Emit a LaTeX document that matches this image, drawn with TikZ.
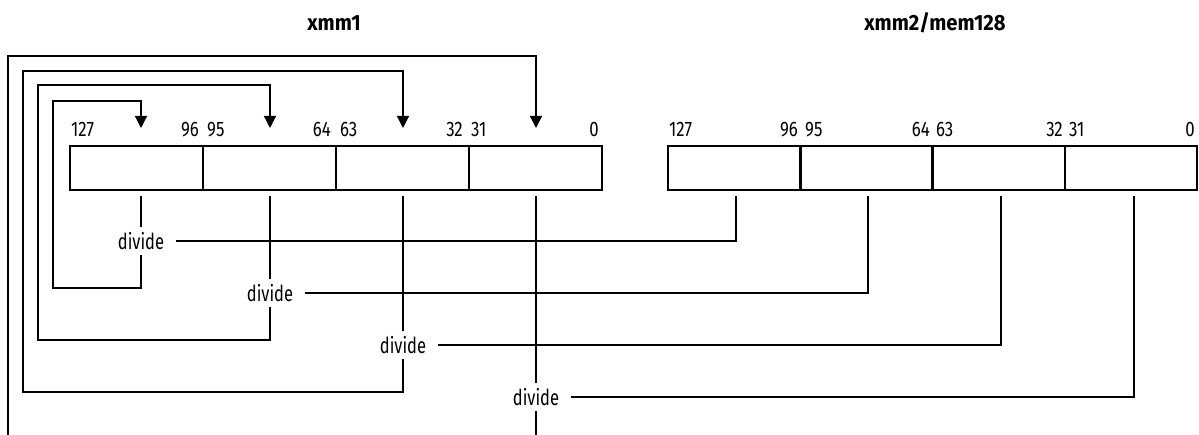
\documentclass[tikz,border=0pt]{standalone}
\usepackage{fontspec}
\setmainfont[FakeStretch=0.75]{Fira Sans}
\newfontfamily\numfont[FakeStretch=0.8]{Fira Sans}
\newfontfamily\ttlfont[FakeStretch=0.92]{Fira Sans}
\usetikzlibrary{arrows.meta}
\begin{document}
\begin{tikzpicture}[x=1pt,y=-1pt,
 cell/.style={draw,line width=2.4pt,minimum width=133pt,minimum height=44pt,inner sep=0pt,outer sep=0pt,anchor=north west},
 lbl/.style={font=\fontsize{22}{22}\selectfont,inner xsep=12pt,inner ysep=5pt},
 num/.style={font=\numfont\fontsize{21}{21}\selectfont,inner sep=0pt},
 wire/.style={line width=1.3pt},
 arr/.style={wire,-{Triangle[width=12pt,length=12pt]}},
 ttl/.style={font=\ttlfont\bfseries\fontsize{22}{22}\selectfont,inner sep=0pt,anchor=base}]
\useasboundingbox (0,0) rectangle (1199,435);
\clip (0,0) rectangle (1199,435);

% titles
\node[ttl] (t1) at (334,31) {xmm1};
\node[ttl] (t2) at (935,31) {xmm2/mem128};

% registers
\node[cell] (a1) at (70,146) {};
\node[cell] (a2) at (203,146) {};
\node[cell] (a3) at (336,146) {};
\node[cell] (a4) at (469,146) {};
\node[cell,minimum width=132.3pt] (b1) at (668,146) {};
\node[cell,minimum width=132.3pt] (b2) at (800.3,146) {};
\node[cell,minimum width=132.3pt] (b3) at (932.6,146) {};
\node[cell,minimum width=132.3pt] (b4) at (1064.9,146) {};

% bit numbers
\foreach \x/\t [count=\i] in {71/127,207/95,340/63,471/31,669/127,805/95,936/63,1069/31}
  \node[num,anchor=base west] (nw\i) at (\x,137) {\t};
\foreach \x/\t [count=\i] in {199/96,331/64,463/32,599/0,798/96,930/64,1063/32,1195/0}
  \node[num,anchor=base east] (ne\i) at (\x,137) {\t};

% divide labels
\node[lbl] (d1) at (141,241) {divide};
\node[lbl] (d2) at (270,293) {divide};
\node[lbl] (d3) at (403,345) {divide};
\node[lbl] (d4) at (536,397) {divide};

% tick points under xmm1
\coordinate (s1) at (141,196);
\coordinate (s2) at (270,196);
\coordinate (s3) at (403,196);
\coordinate (s4) at (536,196);
% tick points under xmm2
\coordinate (r1) at (736,196);
\coordinate (r2) at (868,196);
\coordinate (r3) at (1001,196);
\coordinate (r4) at (1134,196);
% arrow tips
\coordinate (h1) at (141,128);
\coordinate (h2) at (270,128);
\coordinate (h3) at (403,128);
\coordinate (h4) at (536,128);
% loop corners
\coordinate (l1b) at (53,288);  \coordinate (l1t) at (53,101);
\coordinate (l2b) at (38,340);  \coordinate (l2t) at (38,85);
\coordinate (l3b) at (23,392);  \coordinate (l3t) at (23,71);
\coordinate (l4b) at (8,450);   \coordinate (l4t) at (8,56);

% xmm1 inputs
\draw[wire] (s1) -- (d1);
\draw[wire] (s2) -- (d2);
\draw[wire] (s3) -- (d3);
\draw[wire] (s4) -- (d4);
% xmm2 inputs
\draw[wire] (d1) -| (r1);
\draw[wire] (d2) -| (r2);
\draw[wire] (d3) -| (r3);
\draw[wire] (d4) -| (r4);
% results back into xmm1
\draw[arr] (d1) |- (l1b) -- (l1t) -| (h1);
\draw[arr] (d2) |- (l2b) -- (l2t) -| (h2);
\draw[arr] (d3) |- (l3b) -- (l3t) -| (h3);
\draw[arr] (d4) |- (l4b) -- (l4t) -| (h4);
\end{tikzpicture}
\end{document}
